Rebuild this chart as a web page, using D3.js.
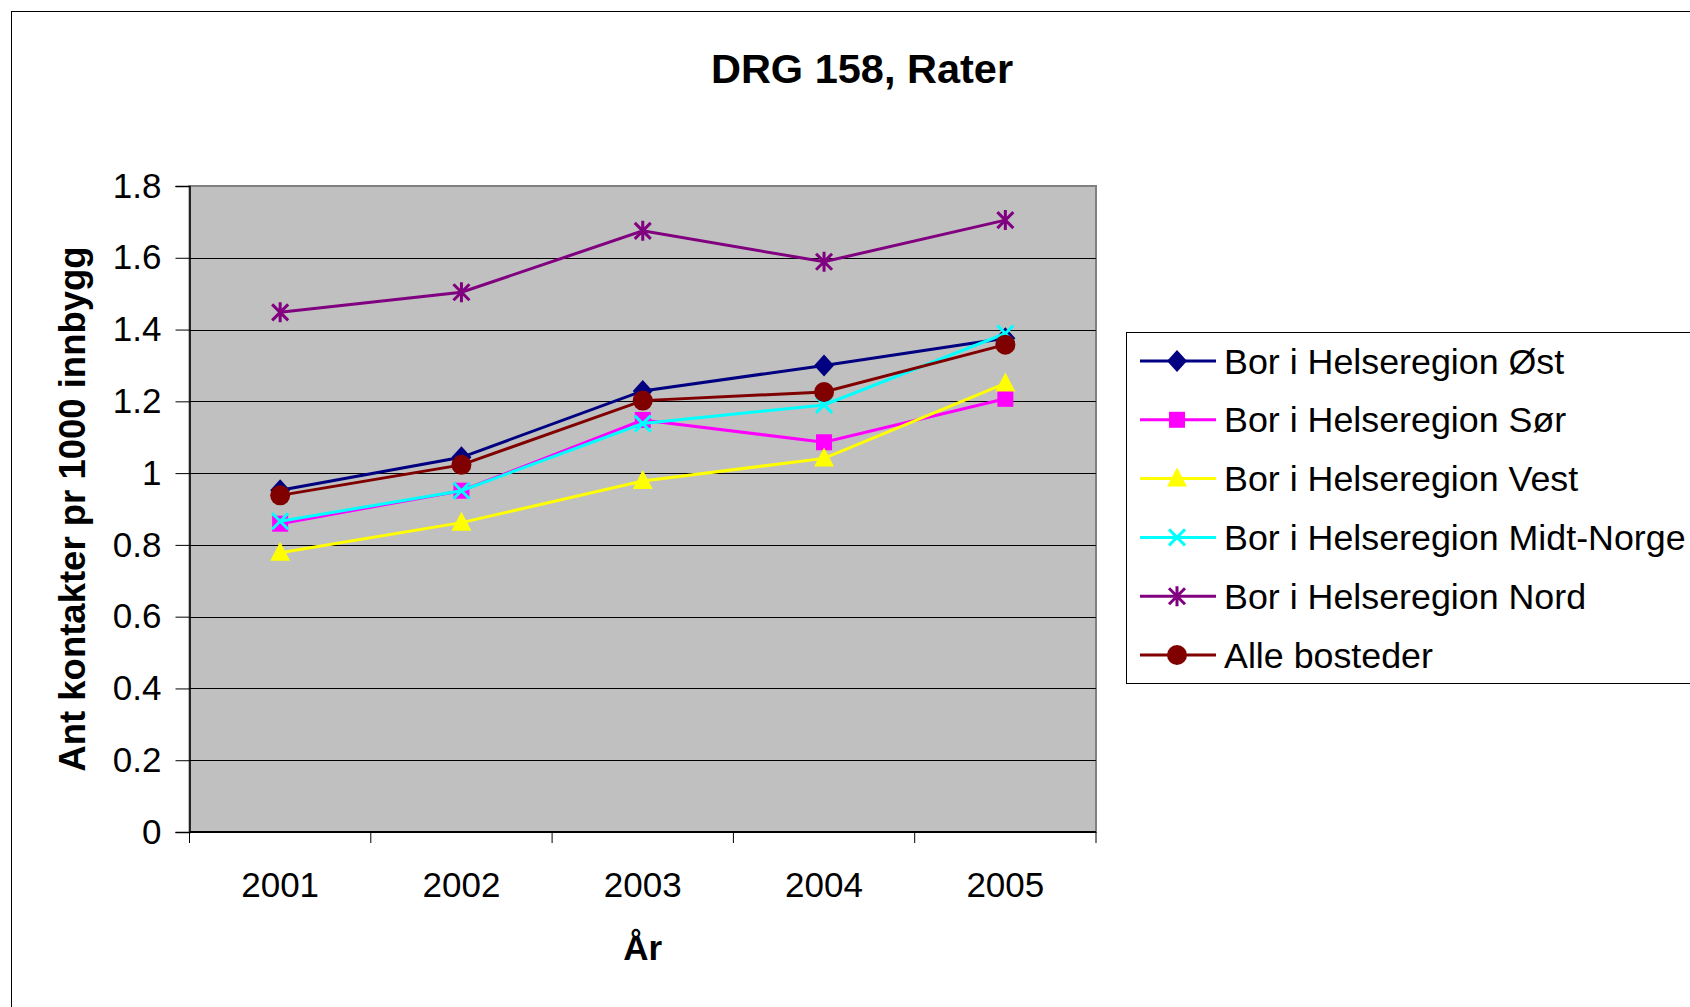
<!DOCTYPE html>
<html><head><meta charset="utf-8">
<script src="https://cdn.jsdelivr.net/npm/d3@7"></script>
<style>body{margin:0;background:#fff}svg{display:block}text{font-family:"Liberation Sans",Arial,sans-serif}</style>
</head><body><svg id="c" width="1690" height="1007"></svg>
<script>
const years = ["2001","2002","2003","2004","2005"];
const seriesNames = ["Bor i Helseregion Øst","Bor i Helseregion Sør","Bor i Helseregion Vest","Bor i Helseregion Midt-Norge","Bor i Helseregion Nord","Alle bosteder"];
const ost   = [0.952, 1.044, 1.229, 1.300, 1.376];
const sor   = [0.859, 0.951, 1.148, 1.086, 1.207];
const vest  = [0.778, 0.862, 0.978, 1.041, 1.250];
const midt  = [0.866, 0.951, 1.138, 1.190, 1.389];
const nord  = [1.448, 1.504, 1.675, 1.589, 1.705];
const alle  = [0.938, 1.023, 1.202, 1.226, 1.358];
const yTicks = [0, 0.2, 0.4, 0.6, 0.8, 1, 1.2, 1.4, 1.6, 1.8];
const colors = ["#000080","#FF00FF","#FFFF00","#00FFFF","#800080","#800000"];
const markers = ["diamond","square","triangle","x","asterisk","circle"];
const values = [ost, sor, vest, midt, nord, alle];

const svg = d3.select("#c");
const L = 189.5, R = 1096, T = 186, B = 832;
const x = d3.scaleBand().domain(years).range([L, R]);
const y = d3.scaleLinear().domain([0, 1.8]).range([B, T]);

// outer chart border
svg.append("rect").attr("x",11.5).attr("y",11.5).attr("width",1700).attr("height",1100)
  .attr("fill","#fff").attr("stroke","#000").attr("stroke-width",1);

// plot area
svg.append("rect").attr("x",L).attr("y",T).attr("width",R-L).attr("height",B-T)
  .attr("fill","#C0C0C0").attr("stroke","#808080").attr("stroke-width",2);

// gridlines
svg.append("g").selectAll("line").data(yTicks.filter(d=>d>0 && d<1.8)).join("line")
  .attr("x1",L).attr("x2",R).attr("y1",d=>Math.round(y(d))+0.5).attr("y2",d=>Math.round(y(d))+0.5)
  .attr("stroke","#000").attr("stroke-width",1);

// y axis
const yAxis = d3.axisLeft(y).tickValues(yTicks).tickSize(14).tickPadding(14)
  .tickFormat(d=>String(+d.toFixed(1)));
const gy = svg.append("g").attr("transform",`translate(${L},0)`).call(yAxis);
gy.select(".domain").attr("stroke","#000").attr("stroke-width",1.5);
gy.selectAll(".tick line").attr("stroke","#000");
gy.selectAll("text").attr("font-size",35).attr("fill","#000").attr("font-family","Liberation Sans, Arial");

// x axis
const edges = years.map(d=>x(d)).concat([R]);
svg.append("line").attr("x1",L).attr("x2",R).attr("y1",B).attr("y2",B).attr("stroke","#000").attr("stroke-width",2);
svg.append("g").selectAll("line").data(edges).join("line")
  .attr("x1",d=>d).attr("x2",d=>d).attr("y1",B).attr("y2",B+11).attr("stroke","#000").attr("stroke-width",1);
svg.append("g").selectAll("text").data(years).join("text")
  .attr("x",d=>x(d)+x.bandwidth()/2).attr("y",897).attr("text-anchor","middle")
  .attr("font-size",35).attr("fill","#000").text(d=>d);

// titles
svg.append("text").attr("x",862).attr("y",83).attr("text-anchor","middle")
  .attr("font-size",41.5).attr("font-weight","bold").text("DRG 158, Rater");
svg.append("text").attr("x",(L+R)/2).attr("y",960).attr("text-anchor","middle")
  .attr("font-size",35).attr("font-weight","bold").text("År");
svg.append("text").attr("transform",`translate(85,${(T+B)/2}) rotate(-90)`).attr("text-anchor","middle")
  .attr("font-size",36.5).attr("font-weight","bold").text("Ant kontakter pr 1000 innbygg");

function drawMarker(g, type, color){
  if(type==="diamond") g.append("path").attr("d","M0,-11L10,0L0,11L-10,0Z").attr("fill",color);
  else if(type==="square") g.append("rect").attr("x",-8).attr("y",-8).attr("width",16).attr("height",16).attr("fill",color);
  else if(type==="triangle") g.append("path").attr("d","M0,-11L10,8L-10,8Z").attr("fill",color);
  else if(type==="circle") g.append("circle").attr("r",10).attr("fill",color);
  else if(type==="x") g.append("path").attr("d","M-8,-8L8,8M-8,8L8,-8").attr("stroke",color).attr("stroke-width",3).attr("fill","none");
  else if(type==="asterisk") g.append("path").attr("d","M-8,-8L8,8M-8,8L8,-8M0,-10L0,10").attr("stroke",color).attr("stroke-width",3).attr("fill","none");
}

const line = d3.line().x((d,i)=>x(years[i])+x.bandwidth()/2).y(d=>y(d));
values.forEach((vals, si)=>{
  const g = svg.append("g");
  g.append("path").datum(vals).attr("d",line).attr("fill","none").attr("stroke",colors[si]).attr("stroke-width",3);
  vals.forEach((v,i)=>{
    const mg = g.append("g").attr("transform",`translate(${x(years[i])+x.bandwidth()/2},${y(v)})`);
    drawMarker(mg, markers[si], colors[si]);
  });
});

// legend
const lg = svg.append("g");
lg.append("rect").attr("x",1126.5).attr("y",332.5).attr("width",700).attr("height",351)
  .attr("fill","#fff").attr("stroke","#000").attr("stroke-width",1);
seriesNames.forEach((name, i)=>{
  const cy = 361 + i*58.8;
  lg.append("line").attr("x1",1140).attr("x2",1216).attr("y1",cy).attr("y2",cy).attr("stroke",colors[i]).attr("stroke-width",3);
  const mg = lg.append("g").attr("transform",`translate(1177,${cy})`);
  drawMarker(mg, markers[i], colors[i]);
  lg.append("text").attr("x",1224).attr("y",cy+12.5).attr("font-size",35.8).attr("fill","#000").text(name);
});
</script></body></html>
